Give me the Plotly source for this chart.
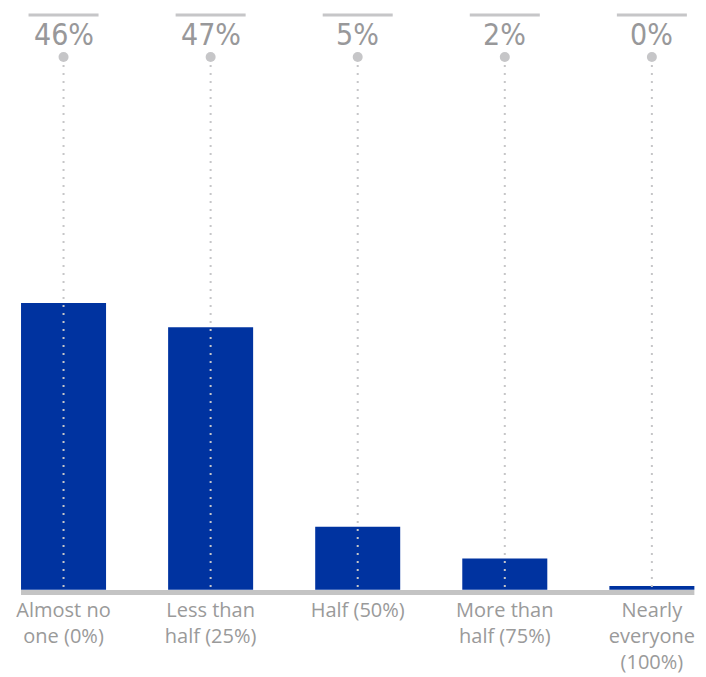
import plotly.graph_objects as go

categories = ["Almost no<br>one (0%)", "Less than<br>half (25%)", "Half (50%)",
              "More than<br>half (75%)", "Nearly<br>everyone<br>(100%)"]
bar_values = [46, 42.1, 10.1, 5.0, 0.6]
top_labels = ["46%", "47%", "5%", "2%", "0%"]

x_pos = list(range(len(categories)))
BAR_COLOR = "#0033A0"
GRAY = "#98989A"
LIGHT = "#C6C6C8"
YMAX = 94.6
YMIN = -1.0

fig = go.Figure()
fig.add_trace(go.Bar(x=x_pos, y=bar_values, marker=dict(color=BAR_COLOR, line=dict(width=0)),
                     width=0.578, hoverinfo="skip"))

# baseline
fig.add_shape(type="line", xref="x", yref="y", x0=-0.289, x1=len(categories) - 1 + 0.289,
              y0=-0.45, y1=-0.45, line=dict(color="#C4C4C4", width=5), layer="below")

PH = 590 + 6.24  # plot height in px
def py(px):
    return (PH - px) / PH

for i, lab in enumerate(top_labels):
    fig.add_shape(type="line", xref="x", yref="paper", x0=i, x1=i, y0=py(57), y1=py(590),
                  line=dict(color=LIGHT, width=2, dash="2px,6px"), layer="above")
    fig.add_shape(type="line", xref="x", yref="paper", x0=i - 0.238, x1=i + 0.238,
                  y0=py(15), y1=py(15), line=dict(color=LIGHT, width=3))
    fig.add_annotation(x=i, xref="x", y=py(35), yref="paper", text=lab, showarrow=False,
                       font=dict(family="DejaVu Sans Condensed", size=30, color=GRAY),
                       xanchor="center", yanchor="middle")

fig.add_trace(go.Scatter(x=x_pos, y=[YMIN + py(57) * (YMAX - YMIN)] * len(x_pos), mode="markers",
                         marker=dict(color=LIGHT, size=10), hoverinfo="skip", cliponaxis=False))

fig.update_layout(
    width=706, height=677,
    margin=dict(l=0, r=0, t=0, b=677 - 596, autoexpand=False),
    paper_bgcolor="white", plot_bgcolor="white",
    showlegend=False,
    xaxis=dict(range=[-0.432, 4.368], tickmode="array", tickvals=x_pos, ticktext=categories,
               showgrid=False, zeroline=False, showline=False, ticks="", automargin=False,
               tickfont=dict(family="Open Sans", size=20, color="#9A9A9A")),
    yaxis=dict(range=[YMIN, YMAX], visible=False, showgrid=False, zeroline=False, automargin=False),
)

fig.write_html("out.html")
